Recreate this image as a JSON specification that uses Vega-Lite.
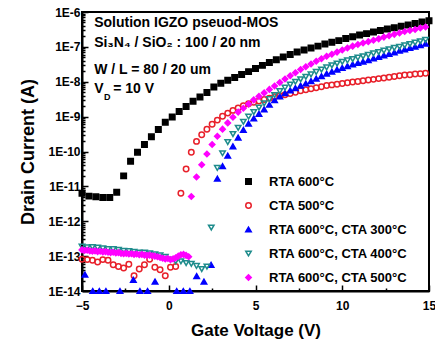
{
  "$schema": "https://vega.github.io/schema/vega-lite/v6.json",
  "width": 347,
  "height": 279,
  "autosize": {"type": "none"},
  "padding": {"left": 82, "top": 12, "right": 6, "bottom": 58},
  "background": "white",
  "config": {
    "font": "Liberation Sans",
    "view": {"stroke": "black", "strokeWidth": 2},
    "axis": {"domainColor": "black", "domainWidth": 2, "tickColor": "black", "tickWidth": 1.5, "labelColor": "black", "titleColor": "black", "labelFont": "Liberation Sans", "titleFont": "Liberation Sans", "labelFontWeight": "bold", "titleFontWeight": "bold", "grid": false}
  },
  "resolve": {"axis": {"x": "independent", "y": "independent"}},
  "layer": [
    {
      "data": {"values": [
        {"s":"RTA 600°C","v":-5,"i":6.31e-12},{"s":"RTA 600°C","v":-4.6,"i":5.25e-12},{"s":"RTA 600°C","v":-4.2,"i":5.01e-12},{"s":"RTA 600°C","v":-3.8,"i":4.79e-12},{"s":"RTA 600°C","v":-3.4,"i":4.79e-12},{"s":"RTA 600°C","v":-3,"i":6.76e-12},{"s":"RTA 600°C","v":-2.6,"i":2.0e-11},{"s":"RTA 600°C","v":-2.2,"i":5.25e-11},{"s":"RTA 600°C","v":-1.8,"i":9.55e-11},{"s":"RTA 600°C","v":-1.4,"i":1.585e-10},{"s":"RTA 600°C","v":-1,"i":2.63e-10},{"s":"RTA 600°C","v":-0.6,"i":4.27e-10},{"s":"RTA 600°C","v":-0.2,"i":6.92e-10},{"s":"RTA 600°C","v":0.2,"i":9.77e-10},{"s":"RTA 600°C","v":0.6,"i":1.41e-9},{"s":"RTA 600°C","v":1,"i":1.95e-9},{"s":"RTA 600°C","v":1.4,"i":2.75e-9},{"s":"RTA 600°C","v":1.8,"i":3.63e-9},{"s":"RTA 600°C","v":2.2,"i":4.9e-9},{"s":"RTA 600°C","v":2.6,"i":7.08e-9},{"s":"RTA 600°C","v":3,"i":9.12e-9},{"s":"RTA 600°C","v":3.4,"i":1.1e-8},{"s":"RTA 600°C","v":3.8,"i":1.32e-8},{"s":"RTA 600°C","v":4.2,"i":1.62e-8},{"s":"RTA 600°C","v":4.6,"i":1.95e-8},{"s":"RTA 600°C","v":5,"i":2.4e-8},{"s":"RTA 600°C","v":5.4,"i":2.95e-8},{"s":"RTA 600°C","v":5.8,"i":3.55e-8},{"s":"RTA 600°C","v":6.2,"i":4.27e-8},{"s":"RTA 600°C","v":6.6,"i":5.13e-8},{"s":"RTA 600°C","v":7,"i":6.03e-8},{"s":"RTA 600°C","v":7.4,"i":7.08e-8},{"s":"RTA 600°C","v":7.8,"i":8.13e-8},{"s":"RTA 600°C","v":8.2,"i":9.33e-8},{"s":"RTA 600°C","v":8.6,"i":1.05e-7},{"s":"RTA 600°C","v":9,"i":1.2e-7},{"s":"RTA 600°C","v":9.4,"i":1.35e-7},{"s":"RTA 600°C","v":9.8,"i":1.51e-7},{"s":"RTA 600°C","v":10.2,"i":1.74e-7},{"s":"RTA 600°C","v":10.6,"i":1.95e-7},{"s":"RTA 600°C","v":11,"i":2.19e-7},{"s":"RTA 600°C","v":11.4,"i":2.4e-7},{"s":"RTA 600°C","v":11.8,"i":2.69e-7},{"s":"RTA 600°C","v":12.2,"i":2.95e-7},{"s":"RTA 600°C","v":12.6,"i":3.24e-7},{"s":"RTA 600°C","v":13,"i":3.55e-7},{"s":"RTA 600°C","v":13.4,"i":3.89e-7},{"s":"RTA 600°C","v":13.8,"i":4.27e-7},{"s":"RTA 600°C","v":14.2,"i":4.68e-7},{"s":"RTA 600°C","v":14.6,"i":5.13e-7},{"s":"RTA 600°C","v":15,"i":5.62e-7},
        {"s":"CTA 500°C","v":-5,"i":8.13e-14},{"s":"CTA 500°C","v":-4.7,"i":7.94e-14},{"s":"CTA 500°C","v":-4.4,"i":7.59e-14},{"s":"CTA 500°C","v":-4.1,"i":6.76e-14},{"s":"CTA 500°C","v":-3.8,"i":7.94e-14},{"s":"CTA 500°C","v":-3.5,"i":7.59e-14},{"s":"CTA 500°C","v":-3.2,"i":5.62e-14},{"s":"CTA 500°C","v":-2.9,"i":5.01e-14},{"s":"CTA 500°C","v":-2.6,"i":4.57e-14},{"s":"CTA 500°C","v":-2.3,"i":5.89e-14},{"s":"CTA 500°C","v":-2,"i":2.75e-14},{"s":"CTA 500°C","v":-1.7,"i":4.27e-14},{"s":"CTA 500°C","v":-1.4,"i":5.62e-14},{"s":"CTA 500°C","v":-1.1,"i":8.13e-14},{"s":"CTA 500°C","v":-0.8,"i":4.79e-14},{"s":"CTA 500°C","v":-0.5,"i":4.07e-14},{"s":"CTA 500°C","v":-0.2,"i":2.75e-14},{"s":"CTA 500°C","v":0.1,"i":4.79e-14},{"s":"CTA 500°C","v":0.4,"i":5.01e-14},{"s":"CTA 500°C","v":0.7,"i":6.31e-12},{"s":"CTA 500°C","v":1,"i":3.16e-11},{"s":"CTA 500°C","v":1.3,"i":9.55e-11},{"s":"CTA 500°C","v":1.6,"i":1.95e-10},{"s":"CTA 500°C","v":1.9,"i":3.02e-10},{"s":"CTA 500°C","v":2.2,"i":4.37e-10},{"s":"CTA 500°C","v":2.5,"i":6.03e-10},{"s":"CTA 500°C","v":2.8,"i":7.94e-10},{"s":"CTA 500°C","v":3.1,"i":1.02e-9},{"s":"CTA 500°C","v":3.4,"i":1.26e-9},{"s":"CTA 500°C","v":3.7,"i":1.51e-9},{"s":"CTA 500°C","v":4,"i":1.78e-9},{"s":"CTA 500°C","v":4.3,"i":2.04e-9},{"s":"CTA 500°C","v":4.6,"i":2.34e-9},{"s":"CTA 500°C","v":4.9,"i":2.57e-9},{"s":"CTA 500°C","v":5.2,"i":2.82e-9},{"s":"CTA 500°C","v":5.5,"i":3.09e-9},{"s":"CTA 500°C","v":5.8,"i":3.39e-9},{"s":"CTA 500°C","v":6.1,"i":3.72e-9},{"s":"CTA 500°C","v":6.4,"i":3.98e-9},{"s":"CTA 500°C","v":6.7,"i":4.27e-9},{"s":"CTA 500°C","v":7,"i":4.57e-9},{"s":"CTA 500°C","v":7.3,"i":5.01e-9},{"s":"CTA 500°C","v":7.6,"i":5.5e-9},{"s":"CTA 500°C","v":7.9,"i":5.89e-9},{"s":"CTA 500°C","v":8.2,"i":6.31e-9},{"s":"CTA 500°C","v":8.5,"i":6.76e-9},{"s":"CTA 500°C","v":8.8,"i":7.24e-9},{"s":"CTA 500°C","v":9.1,"i":7.76e-9},{"s":"CTA 500°C","v":9.4,"i":8.13e-9},{"s":"CTA 500°C","v":9.7,"i":8.51e-9},{"s":"CTA 500°C","v":10,"i":8.91e-9},{"s":"CTA 500°C","v":10.3,"i":9.33e-9},{"s":"CTA 500°C","v":10.6,"i":9.77e-9},{"s":"CTA 500°C","v":10.9,"i":1.02e-8},{"s":"CTA 500°C","v":11.2,"i":1.07e-8},{"s":"CTA 500°C","v":11.5,"i":1.12e-8},{"s":"CTA 500°C","v":11.8,"i":1.17e-8},{"s":"CTA 500°C","v":12.1,"i":1.23e-8},{"s":"CTA 500°C","v":12.4,"i":1.29e-8},{"s":"CTA 500°C","v":12.7,"i":1.35e-8},{"s":"CTA 500°C","v":13,"i":1.41e-8},{"s":"CTA 500°C","v":13.3,"i":1.48e-8},{"s":"CTA 500°C","v":13.6,"i":1.55e-8},{"s":"CTA 500°C","v":13.9,"i":1.585e-8},{"s":"CTA 500°C","v":14.2,"i":1.66e-8},{"s":"CTA 500°C","v":14.5,"i":1.7e-8},{"s":"CTA 500°C","v":14.8,"i":1.74e-8},
        {"s":"RTA 600°C, CTA 300°C","v":-4.83,"i":2.95e-14},{"s":"RTA 600°C, CTA 300°C","v":-4.38,"i":1e-14},{"s":"RTA 600°C, CTA 300°C","v":-4.0,"i":1e-14},{"s":"RTA 600°C, CTA 300°C","v":-3.62,"i":1e-14},{"s":"RTA 600°C, CTA 300°C","v":-2.81,"i":1e-14},{"s":"RTA 600°C, CTA 300°C","v":-2.04,"i":2.09e-14},{"s":"RTA 600°C, CTA 300°C","v":-1.66,"i":1e-14},{"s":"RTA 600°C, CTA 300°C","v":-1.22,"i":1e-14},{"s":"RTA 600°C, CTA 300°C","v":-0.79,"i":1.86e-14},{"s":"RTA 600°C, CTA 300°C","v":0.46,"i":1e-14},{"s":"RTA 600°C, CTA 300°C","v":0.84,"i":1e-14},{"s":"RTA 600°C, CTA 300°C","v":1.22,"i":1e-14},{"s":"RTA 600°C, CTA 300°C","v":1.61,"i":2.69e-14},{"s":"RTA 600°C, CTA 300°C","v":2.03,"i":1.86e-14},{"s":"RTA 600°C, CTA 300°C","v":2.44,"i":5.62e-14},
        {"s":"RTA 600°C, CTA 300°C","v":2.8,"i":1.66e-11},{"s":"RTA 600°C, CTA 300°C","v":3.1,"i":3.8e-11},{"s":"RTA 600°C, CTA 300°C","v":3.4,"i":7.59e-11},{"s":"RTA 600°C, CTA 300°C","v":3.7,"i":1.41e-10},{"s":"RTA 600°C, CTA 300°C","v":4,"i":2.51e-10},{"s":"RTA 600°C, CTA 300°C","v":4.3,"i":4.17e-10},{"s":"RTA 600°C, CTA 300°C","v":4.6,"i":6.31e-10},{"s":"RTA 600°C, CTA 300°C","v":4.9,"i":8.91e-10},{"s":"RTA 600°C, CTA 300°C","v":5.2,"i":1.2e-9},{"s":"RTA 600°C, CTA 300°C","v":5.5,"i":1.62e-9},{"s":"RTA 600°C, CTA 300°C","v":5.8,"i":2.19e-9},{"s":"RTA 600°C, CTA 300°C","v":6.1,"i":2.95e-9},{"s":"RTA 600°C, CTA 300°C","v":6.4,"i":3.8e-9},{"s":"RTA 600°C, CTA 300°C","v":6.7,"i":4.68e-9},{"s":"RTA 600°C, CTA 300°C","v":7,"i":5.62e-9},{"s":"RTA 600°C, CTA 300°C","v":7.3,"i":6.61e-9},{"s":"RTA 600°C, CTA 300°C","v":7.6,"i":7.76e-9},{"s":"RTA 600°C, CTA 300°C","v":7.9,"i":8.91e-9},{"s":"RTA 600°C, CTA 300°C","v":8.2,"i":1.05e-8},{"s":"RTA 600°C, CTA 300°C","v":8.5,"i":1.23e-8},{"s":"RTA 600°C, CTA 300°C","v":8.8,"i":1.45e-8},{"s":"RTA 600°C, CTA 300°C","v":9.1,"i":1.7e-8},{"s":"RTA 600°C, CTA 300°C","v":9.4,"i":1.95e-8},{"s":"RTA 600°C, CTA 300°C","v":9.7,"i":2.24e-8},{"s":"RTA 600°C, CTA 300°C","v":10,"i":2.51e-8},{"s":"RTA 600°C, CTA 300°C","v":10.3,"i":2.82e-8},{"s":"RTA 600°C, CTA 300°C","v":10.6,"i":3.16e-8},{"s":"RTA 600°C, CTA 300°C","v":10.9,"i":3.47e-8},{"s":"RTA 600°C, CTA 300°C","v":11.2,"i":3.8e-8},{"s":"RTA 600°C, CTA 300°C","v":11.5,"i":4.17e-8},{"s":"RTA 600°C, CTA 300°C","v":11.8,"i":4.68e-8},{"s":"RTA 600°C, CTA 300°C","v":12.1,"i":5.13e-8},{"s":"RTA 600°C, CTA 300°C","v":12.4,"i":5.75e-8},{"s":"RTA 600°C, CTA 300°C","v":12.7,"i":6.31e-8},{"s":"RTA 600°C, CTA 300°C","v":13,"i":6.92e-8},{"s":"RTA 600°C, CTA 300°C","v":13.3,"i":7.76e-8},{"s":"RTA 600°C, CTA 300°C","v":13.6,"i":8.51e-8},{"s":"RTA 600°C, CTA 300°C","v":13.9,"i":9.33e-8},{"s":"RTA 600°C, CTA 300°C","v":14.2,"i":1.02e-7},{"s":"RTA 600°C, CTA 300°C","v":14.5,"i":1.12e-7},{"s":"RTA 600°C, CTA 300°C","v":14.8,"i":1.23e-7},
        {"s":"RTA 600°C, CTA 400°C","v":-5,"i":1.86e-13},{"s":"RTA 600°C, CTA 400°C","v":-4.7,"i":1.78e-13},{"s":"RTA 600°C, CTA 400°C","v":-4.4,"i":1.82e-13},{"s":"RTA 600°C, CTA 400°C","v":-4.1,"i":1.74e-13},{"s":"RTA 600°C, CTA 400°C","v":-3.8,"i":1.66e-13},{"s":"RTA 600°C, CTA 400°C","v":-3.5,"i":1.585e-13},{"s":"RTA 600°C, CTA 400°C","v":-3.2,"i":1.585e-13},{"s":"RTA 600°C, CTA 400°C","v":-2.9,"i":1.51e-13},{"s":"RTA 600°C, CTA 400°C","v":-2.6,"i":1.41e-13},{"s":"RTA 600°C, CTA 400°C","v":-2.3,"i":1.38e-13},{"s":"RTA 600°C, CTA 400°C","v":-2,"i":1.32e-13},{"s":"RTA 600°C, CTA 400°C","v":-1.7,"i":1.26e-13},{"s":"RTA 600°C, CTA 400°C","v":-1.4,"i":1.26e-13},{"s":"RTA 600°C, CTA 400°C","v":-1.1,"i":1.2e-13},{"s":"RTA 600°C, CTA 400°C","v":-0.8,"i":1.12e-13},{"s":"RTA 600°C, CTA 400°C","v":-0.5,"i":1.05e-13},{"s":"RTA 600°C, CTA 400°C","v":-0.2,"i":9.55e-14},{"s":"RTA 600°C, CTA 400°C","v":0.1,"i":7.94e-14},{"s":"RTA 600°C, CTA 400°C","v":0.4,"i":7.08e-14},{"s":"RTA 600°C, CTA 400°C","v":0.7,"i":7.08e-14},{"s":"RTA 600°C, CTA 400°C","v":1,"i":6.31e-14},{"s":"RTA 600°C, CTA 400°C","v":1.3,"i":6.03e-14},{"s":"RTA 600°C, CTA 400°C","v":1.6,"i":5.25e-14},{"s":"RTA 600°C, CTA 400°C","v":1.9,"i":4.27e-14},{"s":"RTA 600°C, CTA 400°C","v":2.2,"i":5.01e-14},{"s":"RTA 600°C, CTA 400°C","v":2.45,"i":6.61e-13},
        {"s":"RTA 600°C, CTA 400°C","v":2.8,"i":3.39e-11},{"s":"RTA 600°C, CTA 400°C","v":3.1,"i":8.91e-11},{"s":"RTA 600°C, CTA 400°C","v":3.4,"i":1.86e-10},{"s":"RTA 600°C, CTA 400°C","v":3.7,"i":3.16e-10},{"s":"RTA 600°C, CTA 400°C","v":4,"i":4.79e-10},{"s":"RTA 600°C, CTA 400°C","v":4.3,"i":7.08e-10},{"s":"RTA 600°C, CTA 400°C","v":4.6,"i":1.0e-9},{"s":"RTA 600°C, CTA 400°C","v":4.9,"i":1.35e-9},{"s":"RTA 600°C, CTA 400°C","v":5.2,"i":1.82e-9},{"s":"RTA 600°C, CTA 400°C","v":5.5,"i":2.4e-9},{"s":"RTA 600°C, CTA 400°C","v":5.8,"i":3.16e-9},{"s":"RTA 600°C, CTA 400°C","v":6.1,"i":4.17e-9},{"s":"RTA 600°C, CTA 400°C","v":6.4,"i":5.37e-9},{"s":"RTA 600°C, CTA 400°C","v":6.7,"i":6.76e-9},{"s":"RTA 600°C, CTA 400°C","v":7,"i":8.32e-9},{"s":"RTA 600°C, CTA 400°C","v":7.3,"i":1.0e-8},{"s":"RTA 600°C, CTA 400°C","v":7.6,"i":1.175e-8},{"s":"RTA 600°C, CTA 400°C","v":7.9,"i":1.38e-8},{"s":"RTA 600°C, CTA 400°C","v":8.2,"i":1.62e-8},{"s":"RTA 600°C, CTA 400°C","v":8.5,"i":1.905e-8},{"s":"RTA 600°C, CTA 400°C","v":8.8,"i":2.24e-8},{"s":"RTA 600°C, CTA 400°C","v":9.1,"i":2.57e-8},{"s":"RTA 600°C, CTA 400°C","v":9.4,"i":2.95e-8},{"s":"RTA 600°C, CTA 400°C","v":9.7,"i":3.31e-8},{"s":"RTA 600°C, CTA 400°C","v":10,"i":3.72e-8},{"s":"RTA 600°C, CTA 400°C","v":10.3,"i":4.07e-8},{"s":"RTA 600°C, CTA 400°C","v":10.6,"i":4.47e-8},{"s":"RTA 600°C, CTA 400°C","v":10.9,"i":4.9e-8},{"s":"RTA 600°C, CTA 400°C","v":11.2,"i":5.37e-8},{"s":"RTA 600°C, CTA 400°C","v":11.5,"i":5.89e-8},{"s":"RTA 600°C, CTA 400°C","v":11.8,"i":6.46e-8},{"s":"RTA 600°C, CTA 400°C","v":12.1,"i":7.08e-8},{"s":"RTA 600°C, CTA 400°C","v":12.4,"i":7.76e-8},{"s":"RTA 600°C, CTA 400°C","v":12.7,"i":8.51e-8},{"s":"RTA 600°C, CTA 400°C","v":13,"i":9.33e-8},{"s":"RTA 600°C, CTA 400°C","v":13.3,"i":1.0e-7},{"s":"RTA 600°C, CTA 400°C","v":13.6,"i":1.1e-7},{"s":"RTA 600°C, CTA 400°C","v":13.9,"i":1.2e-7},{"s":"RTA 600°C, CTA 400°C","v":14.2,"i":1.32e-7},{"s":"RTA 600°C, CTA 400°C","v":14.5,"i":1.45e-7},{"s":"RTA 600°C, CTA 400°C","v":14.8,"i":1.585e-7},
        {"s":"RTA 600°C, CTA 500°C","v":-5,"i":1.51e-13},{"s":"RTA 600°C, CTA 500°C","v":-4.85,"i":1.445e-13},{"s":"RTA 600°C, CTA 500°C","v":-4.7,"i":1.48e-13},{"s":"RTA 600°C, CTA 500°C","v":-4.55,"i":1.41e-13},{"s":"RTA 600°C, CTA 500°C","v":-4.4,"i":1.38e-13},{"s":"RTA 600°C, CTA 500°C","v":-4.25,"i":1.41e-13},{"s":"RTA 600°C, CTA 500°C","v":-4.1,"i":1.35e-13},{"s":"RTA 600°C, CTA 500°C","v":-3.95,"i":1.38e-13},{"s":"RTA 600°C, CTA 500°C","v":-3.8,"i":1.32e-13},{"s":"RTA 600°C, CTA 500°C","v":-3.65,"i":1.35e-13},{"s":"RTA 600°C, CTA 500°C","v":-3.5,"i":1.29e-13},{"s":"RTA 600°C, CTA 500°C","v":-3.35,"i":1.26e-13},{"s":"RTA 600°C, CTA 500°C","v":-3.2,"i":1.29e-13},{"s":"RTA 600°C, CTA 500°C","v":-3.05,"i":1.23e-13},{"s":"RTA 600°C, CTA 500°C","v":-2.9,"i":1.26e-13},{"s":"RTA 600°C, CTA 500°C","v":-2.75,"i":1.2e-13},{"s":"RTA 600°C, CTA 500°C","v":-2.6,"i":1.175e-13},{"s":"RTA 600°C, CTA 500°C","v":-2.45,"i":1.2e-13},{"s":"RTA 600°C, CTA 500°C","v":-2.3,"i":1.15e-13},{"s":"RTA 600°C, CTA 500°C","v":-2.15,"i":1.175e-13},{"s":"RTA 600°C, CTA 500°C","v":-2,"i":1.12e-13},{"s":"RTA 600°C, CTA 500°C","v":-1.85,"i":1.15e-13},{"s":"RTA 600°C, CTA 500°C","v":-1.7,"i":1.1e-13},{"s":"RTA 600°C, CTA 500°C","v":-1.55,"i":1.12e-13},{"s":"RTA 600°C, CTA 500°C","v":-1.4,"i":1.07e-13},{"s":"RTA 600°C, CTA 500°C","v":-1.25,"i":1.05e-13},{"s":"RTA 600°C, CTA 500°C","v":-1.1,"i":1.07e-13},{"s":"RTA 600°C, CTA 500°C","v":-0.95,"i":1.02e-13},{"s":"RTA 600°C, CTA 500°C","v":-0.8,"i":1.0e-13},{"s":"RTA 600°C, CTA 500°C","v":-0.65,"i":9.55e-14},{"s":"RTA 600°C, CTA 500°C","v":-0.5,"i":9.12e-14},{"s":"RTA 600°C, CTA 500°C","v":-0.35,"i":8.71e-14},{"s":"RTA 600°C, CTA 500°C","v":-0.2,"i":8.32e-14},{"s":"RTA 600°C, CTA 500°C","v":-0.05,"i":8.51e-14},{"s":"RTA 600°C, CTA 500°C","v":0.1,"i":7.94e-14},{"s":"RTA 600°C, CTA 500°C","v":0.25,"i":8.32e-14},{"s":"RTA 600°C, CTA 500°C","v":0.4,"i":8.91e-14},{"s":"RTA 600°C, CTA 500°C","v":0.55,"i":1.0e-13},{"s":"RTA 600°C, CTA 500°C","v":0.7,"i":1.1e-13},{"s":"RTA 600°C, CTA 500°C","v":0.85,"i":1.12e-13},{"s":"RTA 600°C, CTA 500°C","v":1,"i":1.05e-13},{"s":"RTA 600°C, CTA 500°C","v":1.15,"i":9.55e-14},
        {"s":"RTA 600°C, CTA 500°C","v":1.3,"i":5.13e-12},{"s":"RTA 600°C, CTA 500°C","v":1.6,"i":1.86e-11},{"s":"RTA 600°C, CTA 500°C","v":1.9,"i":4.17e-11},{"s":"RTA 600°C, CTA 500°C","v":2.2,"i":8.51e-11},{"s":"RTA 600°C, CTA 500°C","v":2.5,"i":1.585e-10},{"s":"RTA 600°C, CTA 500°C","v":2.8,"i":2.75e-10},{"s":"RTA 600°C, CTA 500°C","v":3.1,"i":4.37e-10},{"s":"RTA 600°C, CTA 500°C","v":3.4,"i":6.61e-10},{"s":"RTA 600°C, CTA 500°C","v":3.7,"i":9.55e-10},{"s":"RTA 600°C, CTA 500°C","v":4,"i":1.35e-9},{"s":"RTA 600°C, CTA 500°C","v":4.3,"i":1.74e-9},{"s":"RTA 600°C, CTA 500°C","v":4.6,"i":2.29e-9},{"s":"RTA 600°C, CTA 500°C","v":4.9,"i":3.02e-9},{"s":"RTA 600°C, CTA 500°C","v":5.2,"i":3.8e-9},{"s":"RTA 600°C, CTA 500°C","v":5.5,"i":4.79e-9},{"s":"RTA 600°C, CTA 500°C","v":5.8,"i":6.03e-9},{"s":"RTA 600°C, CTA 500°C","v":6.1,"i":7.59e-9},{"s":"RTA 600°C, CTA 500°C","v":6.4,"i":9.55e-9},{"s":"RTA 600°C, CTA 500°C","v":6.7,"i":1.2e-8},{"s":"RTA 600°C, CTA 500°C","v":7,"i":1.48e-8},{"s":"RTA 600°C, CTA 500°C","v":7.3,"i":1.82e-8},{"s":"RTA 600°C, CTA 500°C","v":7.6,"i":2.24e-8},{"s":"RTA 600°C, CTA 500°C","v":7.9,"i":2.69e-8},{"s":"RTA 600°C, CTA 500°C","v":8.2,"i":3.24e-8},{"s":"RTA 600°C, CTA 500°C","v":8.5,"i":3.89e-8},{"s":"RTA 600°C, CTA 500°C","v":8.8,"i":4.57e-8},{"s":"RTA 600°C, CTA 500°C","v":9.1,"i":5.37e-8},{"s":"RTA 600°C, CTA 500°C","v":9.4,"i":6.17e-8},{"s":"RTA 600°C, CTA 500°C","v":9.7,"i":7.08e-8},{"s":"RTA 600°C, CTA 500°C","v":10,"i":8.13e-8},{"s":"RTA 600°C, CTA 500°C","v":10.3,"i":9.33e-8},{"s":"RTA 600°C, CTA 500°C","v":10.6,"i":1.05e-7},{"s":"RTA 600°C, CTA 500°C","v":10.9,"i":1.175e-7},{"s":"RTA 600°C, CTA 500°C","v":11.2,"i":1.29e-7},{"s":"RTA 600°C, CTA 500°C","v":11.5,"i":1.41e-7},{"s":"RTA 600°C, CTA 500°C","v":11.8,"i":1.55e-7},{"s":"RTA 600°C, CTA 500°C","v":12.1,"i":1.7e-7},{"s":"RTA 600°C, CTA 500°C","v":12.4,"i":1.905e-7},{"s":"RTA 600°C, CTA 500°C","v":12.7,"i":2.09e-7},{"s":"RTA 600°C, CTA 500°C","v":13,"i":2.29e-7},{"s":"RTA 600°C, CTA 500°C","v":13.3,"i":2.51e-7},{"s":"RTA 600°C, CTA 500°C","v":13.6,"i":2.75e-7},{"s":"RTA 600°C, CTA 500°C","v":13.9,"i":2.95e-7},{"s":"RTA 600°C, CTA 500°C","v":14.2,"i":3.16e-7},{"s":"RTA 600°C, CTA 500°C","v":14.5,"i":3.47e-7},{"s":"RTA 600°C, CTA 500°C","v":14.8,"i":3.72e-7}
      ]},
      "mark": {"type": "point", "opacity": 1, "strokeWidth": 1.5, "fillOpacity": 1},
      "encoding": {
        "x": {"field": "v", "type": "quantitative", "scale": {"domain": [-5, 15], "nice": false, "zero": false},
          "axis": {"values": [-5, 0, 5, 10, 15], "tickSize": -6, "labelFontSize": 12, "labelPadding": 15, "title": "Gate Voltage (V)", "titleFontSize": 17, "titlePadding": 11, "labelFlush": false}},
        "y": {"field": "i", "type": "quantitative", "scale": {"type": "log", "domain": [1e-14, 1e-6], "nice": false},
          "axis": {"values": [1e-14, 1e-13, 1e-12, 1e-11, 1e-10, 1e-9, 1e-8, 1e-7, 1e-6], "labelExpr": "'1E' + round(log(datum.value)/LN10)", "tickSize": -6, "labelFontSize": 12, "labelPadding": 8, "title": "Drain Current (A)", "titleFontSize": 18, "titlePadding": 10, "labelFlush": false}},
        "shape": {"field": "s", "type": "nominal", "title": null,
          "scale": {"domain": ["RTA 600°C", "CTA 500°C", "RTA 600°C, CTA 300°C", "RTA 600°C, CTA 400°C", "RTA 600°C, CTA 500°C"], "range": ["square", "circle", "triangle-up", "triangle-down", "diamond"]},
          "legend": {"orient": "none", "legendX": 160, "legendY": 163, "labelFontSize": 13, "labelFontWeight": "bold", "labelColor": "black", "labelFont": "Liberation Sans", "rowPadding": 10, "labelOffset": 14, "symbolStrokeWidth": 1.5, "padding": 0}},
        "fill": {"field": "s", "type": "nominal", "title": null,
          "scale": {"domain": ["RTA 600°C", "CTA 500°C", "RTA 600°C, CTA 300°C", "RTA 600°C, CTA 400°C", "RTA 600°C, CTA 500°C"], "range": ["#000000", "transparent", "#0000FF", "transparent", "#FF00FF"]}},
        "stroke": {"field": "s", "type": "nominal", "title": null,
          "scale": {"domain": ["RTA 600°C", "CTA 500°C", "RTA 600°C, CTA 300°C", "RTA 600°C, CTA 400°C", "RTA 600°C, CTA 500°C"], "range": ["#000000", "#E8202A", "#0000FF", "#1E8C8C", "#FF00FF"]}},
        "size": {"field": "s", "type": "nominal", "title": null,
          "scale": {"domain": ["RTA 600°C", "CTA 500°C", "RTA 600°C, CTA 300°C", "RTA 600°C, CTA 400°C", "RTA 600°C, CTA 500°C"], "range": [30, 30, 45, 45, 50]}}
      }
    },
    {
      "data": {"values": [
        {"t": "Solution IGZO pseuod-MOS", "v": -4.3, "i": 4.9e-7},
        {"t": "Si₃N₄ / SiO₂ : 100 / 20 nm", "v": -4.3, "i": 1.32e-7},
        {"t": "W / L = 80 / 20 um", "v": -4.3, "i": 2.24e-8},
        {"t": "V", "v": -4.3, "i": 6.03e-9},
        {"t": "= 10 V", "v": -3.2, "i": 6.03e-9}
      ]},
      "mark": {"type": "text", "align": "left", "baseline": "middle", "fontSize": 14, "fontWeight": "bold", "font": "Liberation Sans", "color": "black"},
      "encoding": {
        "x": {"field": "v", "type": "quantitative", "axis": {"values": [-2.5, 2.5, 7.5, 12.5], "labels": false, "domain": false, "tickSize": -3, "title": null, "orient": "bottom"}},
        "y": {"field": "i", "type": "quantitative", "axis": {"values": [2e-14,3e-14,4e-14,5e-14,6e-14,7e-14,8e-14,9e-14,2e-13,3e-13,4e-13,5e-13,6e-13,7e-13,8e-13,9e-13,2e-12,3e-12,4e-12,5e-12,6e-12,7e-12,8e-12,9e-12,2e-11,3e-11,4e-11,5e-11,6e-11,7e-11,8e-11,9e-11,2e-10,3e-10,4e-10,5e-10,6e-10,7e-10,8e-10,9e-10,2e-9,3e-9,4e-9,5e-9,6e-9,7e-9,8e-9,9e-9,2e-8,3e-8,4e-8,5e-8,6e-8,7e-8,8e-8,9e-8,2e-7,3e-7,4e-7,5e-7,6e-7,7e-7,8e-7,9e-7], "labels": false, "domain": false, "tickSize": -3, "title": null, "orient": "left"}},
        "text": {"field": "t", "type": "nominal"}
      }
    },
    {
      "data": {"values": [
        {"t": "D", "v": -3.73, "i": 3.7e-9}
      ]},
      "mark": {"type": "text", "align": "left", "baseline": "middle", "fontSize": 9, "fontWeight": "bold", "font": "Liberation Sans", "color": "black"},
      "encoding": {
        "x": {"field": "v", "type": "quantitative", "axis": null},
        "y": {"field": "i", "type": "quantitative", "axis": null},
        "text": {"field": "t", "type": "nominal"}
      }
    }
  ]
}
